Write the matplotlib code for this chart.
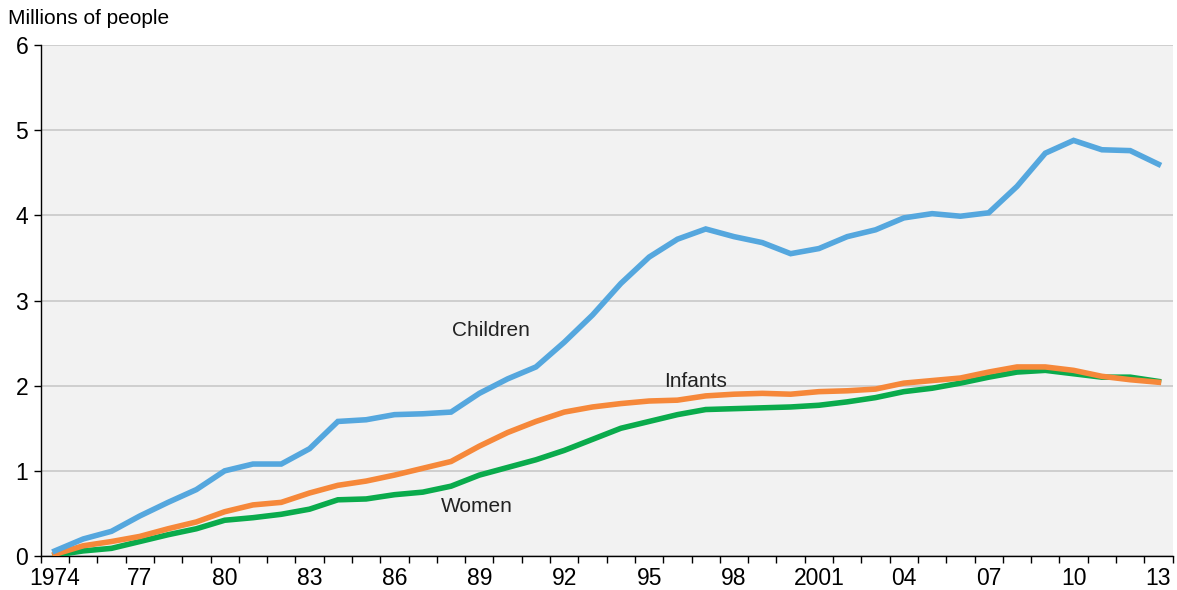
import matplotlib
matplotlib.use("Agg")
import matplotlib.pyplot as plt
import numpy as np

years = list(range(1974, 2014))
children = [0.06, 0.20, 0.29, 0.47, 0.63, 0.78, 1.00, 1.08, 1.08, 1.26,
            1.58, 1.60, 1.66, 1.67, 1.69, 1.91, 2.08, 2.22, 2.51, 2.83,
            3.20, 3.51, 3.72, 3.84, 3.75, 3.68, 3.55, 3.61, 3.75, 3.83,
            3.97, 4.02, 3.99, 4.03, 4.34, 4.73, 4.88, 4.77, 4.76, 4.60]
infants = [0.02, 0.12, 0.17, 0.23, 0.32, 0.40, 0.52, 0.60, 0.63, 0.74,
           0.83, 0.88, 0.95, 1.03, 1.11, 1.29, 1.45, 1.58, 1.69, 1.75,
           1.79, 1.82, 1.83, 1.88, 1.90, 1.91, 1.90, 1.93, 1.94, 1.96,
           2.03, 2.06, 2.09, 2.16, 2.22, 2.22, 2.18, 2.11, 2.07, 2.04]
women = [0.01, 0.06, 0.09, 0.17, 0.25, 0.32, 0.42, 0.45, 0.49, 0.55,
         0.66, 0.67, 0.72, 0.75, 0.82, 0.95, 1.04, 1.13, 1.24, 1.37,
         1.50, 1.58, 1.66, 1.72, 1.73, 1.74, 1.75, 1.77, 1.81, 1.86,
         1.93, 1.97, 2.03, 2.10, 2.16, 2.18, 2.14, 2.10, 2.10, 2.05]
xtick_years = [1974, 1977, 1980, 1983, 1986, 1989, 1992, 1995, 1998, 2001,
               2004, 2007, 2010, 2013]
xtick_labels = ["1974", "77", "80", "83", "86", "89", "92", "95", "98", "2001",
                "04", "07", "10", "13"]
yticks = [0, 1, 2, 3, 4, 5, 6]

plt.rcParams['font.family'] = ['Liberation Sans', 'DejaVu Sans']

fig = plt.figure(figsize=(11.77, 5.90), dpi=100)
ax = fig.add_axes([0.0346, 0.0576, 0.9617, 0.8661])
ax.set_facecolor("#f2f2f2")

c_blue = "#55a7de"
c_orange = "#f6883a"
c_green = "#0aab4c"

ax.plot(years, women, color=c_green, lw=4, solid_joinstyle='miter', zorder=3)
ax.plot(years, infants, color=c_orange, lw=4, solid_joinstyle='miter', zorder=4)
ax.plot(years, children, color=c_blue, lw=4, solid_joinstyle='miter', zorder=5)

ax.set_xlim(1973.5, 2013.5)
ax.set_ylim(0, 6)
ax.set_yticks(yticks)
ax.set_yticklabels([str(v) for v in yticks], fontsize=16.5)
ax.yaxis.grid(True, color="#c8c8c8", lw=1.2)
ax.set_axisbelow(True)

ax.set_xticks(xtick_years)
ax.set_xticklabels(xtick_labels, fontsize=16.5)
ax.set_xticks(np.arange(1973.5, 2014, 1.0), minor=True)
ax.tick_params(axis='x', which='major', length=0, pad=8)
ax.tick_params(axis='x', which='minor', length=5, width=1, direction='out', color='black')
ax.tick_params(axis='y', length=5, width=1, direction='out', pad=4)

for s in ['top', 'right']:
    ax.spines[s].set_visible(False)
for s in ['left', 'bottom']:
    ax.spines[s].set_color('black')
    ax.spines[s].set_linewidth(1)

ax.text(1989.4, 2.65, "Children", fontsize=15, color="#222222", ha='center', va='center')
ax.text(1996.65, 2.05, "Infants", fontsize=15, color="#222222", ha='center', va='center')
ax.text(1988.9, 0.58, "Women", fontsize=15, color="#222222", ha='center', va='center')

fig.text(8 / 1177, 1 - 18 / 590, "Millions of people", fontsize=15, ha='left', va='center')

fig.savefig("out.png", dpi=100)
